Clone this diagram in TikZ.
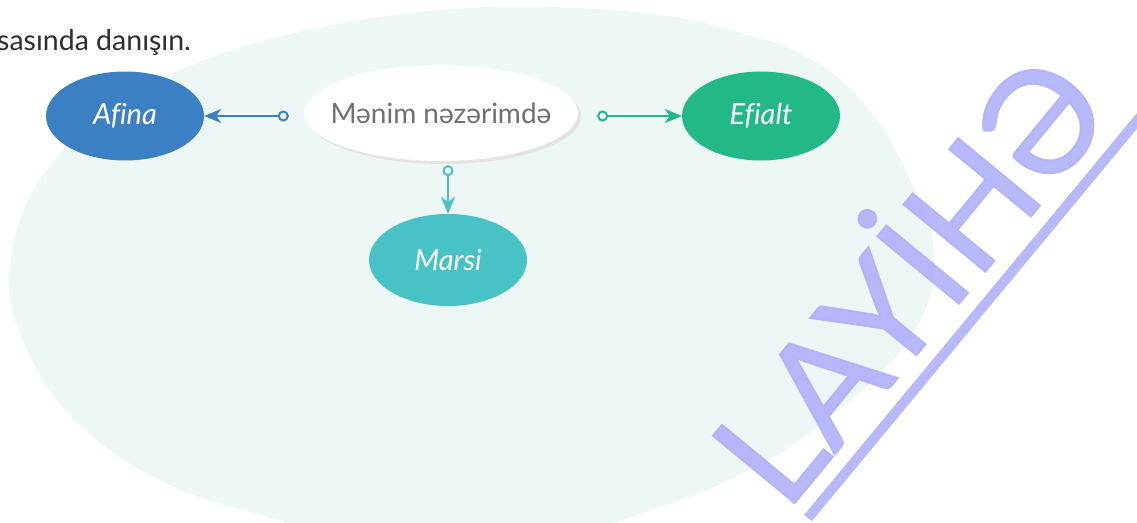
\documentclass[tikz,border=0pt]{standalone}
\usepackage{fontspec}
\setmainfont{Lato}[Ligatures=NoCommon]
\newfontfamily\stampfont{Lato}[FakeBold=1.2]
\usetikzlibrary{shapes.geometric,arrows.meta,shadows}

\definecolor{blobmint}{HTML}{EDF7F5}
\definecolor{afinablue}{HTML}{3A80C3}
\definecolor{efialtgreen}{HTML}{22B888}
\definecolor{marsiteal}{HTML}{48C2C5}
\definecolor{labelgray}{HTML}{707070}
\definecolor{inkgray}{HTML}{2E2E2E}
\definecolor{shadowgray}{HTML}{E4E4E4}
\definecolor{stampblue}{HTML}{B0B1FB}

\begin{document}
\begin{tikzpicture}[x=1pt, y=-1pt,
    bubble/.style={ellipse, inner sep=0pt, minimum width=158pt, minimum height=89pt,
      text=white, font=\fontsize{29}{32}\selectfont\itshape},
    link/.style={line width=2pt,
      {Circle[open, length=11pt, width=11pt]}-{Stealth[length=17pt, width=14pt, inset=5pt]}}]
  \useasboundingbox (0,0) rectangle (1137,522);
  \clip (0,0) rectangle (1137,522);

  % background blob
  \fill[blobmint] plot[smooth cycle, tension=0.7] coordinates {
    (10,267) (40,180) (110,110) (200,62) (300,32) (420,12) (540,7) (660,15)
    (740,33) (805,56) (865,105) (910,180) (934,255) (915,330) (850,400) (750,470)
    (617,522) (450,575) (283,522) (170,485) (80,425) (25,345)};

  \node[anchor=base west, inner sep=0pt, text=inkgray, font=\fontsize{28.5}{32}\selectfont]
    (task) at (-3,50) {sasında danışın.};

  % nodes
  \node[ellipse, inner sep=0pt, minimum width=274pt, minimum height=96pt, fill=white,
    drop shadow={shadow xshift=3pt, shadow yshift=-3pt, fill=shadowgray, opacity=1},
    text=labelgray, font=\fontsize{28}{32}\selectfont] (main) at (441,113)
    {\makebox[150pt]{Mənim nəzərimdə}};
  \node[bubble, fill=afinablue] (afina) at (125,116) {Afina};
  \node[bubble, fill=efialtgreen] (efialt) at (761,116) {Efialt};
  \node[bubble, fill=marsiteal, minimum height=92pt] (marsi) at (448,260) {Marsi};

  % connectors
  \draw[link, afinablue, shorten <=15pt] (afina.east -| main.west) -- (afina.east);
  \draw[link, efialtgreen, shorten <=19pt] (efialt.west -| main.east) -- (efialt.west);
  \draw[link, marsiteal, shorten <=4pt] (main.south -| marsi.north) -- (marsi.north);

  % watermark
  \node[rotate=50.5, inner sep=0pt, text=stampblue, opacity=0.9,
    font=\stampfont\fontsize{148}{148}\selectfont] (stamp) at (900,271) {LAYİHƏ};
  \draw[stampblue, opacity=0.9, line width=10pt] (808,518) -- (1160,93);
\end{tikzpicture}
\end{document}
